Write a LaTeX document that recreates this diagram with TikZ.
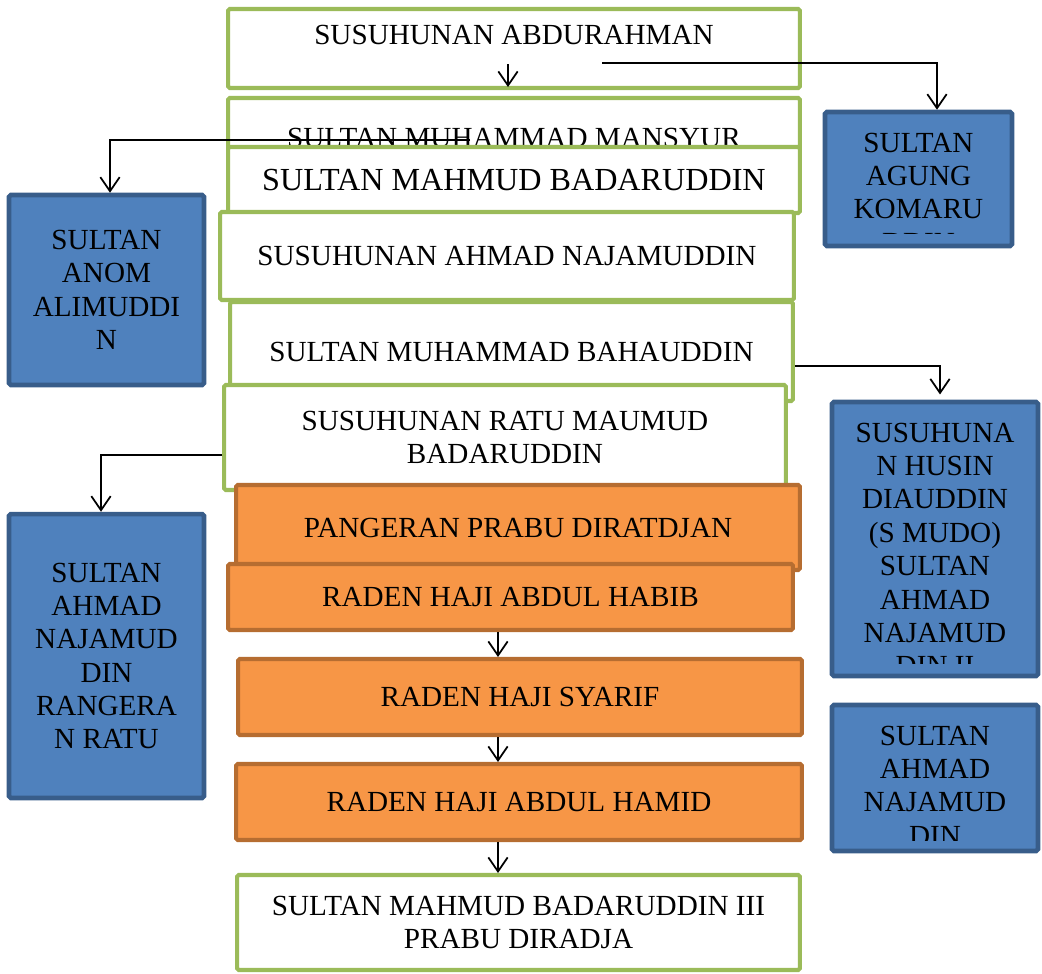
\documentclass[tikz,border=0pt]{standalone}
\usepackage{fontspec}
\setmainfont{Liberation Serif}
\usetikzlibrary{arrows.meta}
\definecolor{boxgreen}{HTML}{9BBB59}
\definecolor{bluefill}{HTML}{4F81BD}
\definecolor{blueline}{HTML}{385D8A}
\definecolor{orangefill}{HTML}{F79646}
\definecolor{orangeline}{HTML}{B66D31}
\newcommand{\boxfont}{\fontsize{16.6}{19}\selectfont}
\tikzset{
  greenbox/.style={draw=boxgreen, fill=white, line width=2.3pt, rounded corners=1pt, align=center, font=\boxfont},
  orangebox/.style={draw=orangeline, fill=orangefill, line width=2.3pt, rounded corners=1pt, align=center, font=\boxfont},
  bluebox/.style={draw=blueline, fill=bluefill, line width=2.6pt, rounded corners=1pt, align=center, font=\boxfont},
  boxtext/.style={align=center, font=\boxfont, inner sep=0pt},
  link/.style={-{Straight Barb[length=8pt,width=11pt]}, line width=1pt}
}

\begin{document}
\begin{tikzpicture}[x=0.02cm,y=-0.02cm]
\useasboundingbox (0,0) rectangle (1042,974);

% middle column
\node[greenbox, minimum width=11.44cm, minimum height=1.58cm] (abdurahman) at (514,48.5) {};
\node[boxtext] (abdurahmantxt) at (514,35) {SUSUHUNAN ABDURAHMAN};
\node[greenbox, minimum width=11.44cm, minimum height=1.6cm] (mansyur) at (514,138) {SULTAN MUHAMMAD MANSYUR};
\node[greenbox, minimum width=11.44cm, minimum height=1.32cm, font=\fontsize{18.3}{21}\selectfont] (badaruddin) at (514,180) {SULTAN MAHMUD BADARUDDIN};
\node[greenbox, minimum width=11.48cm, minimum height=1.76cm] (ahmadnaja) at (507,256) {SUSUHUNAN AHMAD NAJAMUDDIN};
\node[greenbox, minimum width=11.26cm, minimum height=1.98cm] (bahauddin) at (511.5,351.5) {SULTAN MUHAMMAD BAHAUDDIN};
\node[greenbox, minimum width=11.24cm, minimum height=2.1cm] (ratu) at (505,437.5) {SUSUHUNAN RATU MAUMUD\\BADARUDDIN};
\node[orangebox, minimum width=11.28cm, minimum height=1.7cm] (diratdjan) at (518,527.5) {PANGERAN PRABU DIRATDJAN};
\node[orangebox, minimum width=11.3cm, minimum height=1.32cm] (habib) at (510.5,597) {RADEN HAJI ABDUL HABIB};
\node[orangebox, minimum width=11.28cm, minimum height=1.52cm] (syarif) at (520,697) {RADEN HAJI SYARIF};
\node[orangebox, minimum width=11.32cm, minimum height=1.52cm] (hamid) at (519,802) {RADEN HAJI ABDUL HAMID};
\node[greenbox, minimum width=11.26cm, minimum height=1.9cm] (diradja) at (518.5,922.5) {SULTAN MAHMUD BADARUDDIN III\\PRABU DIRADJA};

% side boxes
\node[bluebox, minimum width=3.74cm, minimum height=2.68cm] (agung) at (918.5,179) {};
\begin{scope}
\clip (826,113) rectangle (1011,233);
\node[boxtext, anchor=north] (agungtxt) at (918.5,132.5) {SULTAN\\AGUNG\\KOMARU\\DDIN};
\end{scope}
\node[bluebox, minimum width=3.9cm, minimum height=3.8cm] (anom) at (106.5,290) {SULTAN\\ANOM\\ALIMUDDI\\N};
\node[bluebox, minimum width=4.12cm, minimum height=5.48cm] (husin) at (935,539) {};
\begin{scope}
\clip (833,403) rectangle (1037,663);
\node[boxtext, anchor=north] (husintxt) at (935,422.5) {SUSUHUNA\\N HUSIN\\DIAUDDIN\\(S MUDO)\\SULTAN\\AHMAD\\NAJAMUD\\DIN II};
\end{scope}
\node[bluebox, minimum width=3.9cm, minimum height=5.68cm] (rangeran) at (106.5,656) {SULTAN\\AHMAD\\NAJAMUD\\DIN\\RANGERA\\N RATU};
\node[bluebox, minimum width=4.12cm, minimum height=2.92cm] (najamud) at (935,778) {};
\begin{scope}
\clip (833,706) rectangle (1037,840);
\node[boxtext, anchor=north] (najamudtxt) at (935,725.5) {SULTAN\\AHMAD\\NAJAMUD\\DIN};
\end{scope}

% connectors
\coordinate (a1) at (508,64);
\coordinate (a2) at (508,87);
\draw[link] (a1) -- (a2);
\coordinate (r1) at (602,63);
\coordinate (r2) at (937,63);
\draw[link] (r1) -- (r2) -- (r2 |- agung.north);
\coordinate (l1) at (470,140);
\coordinate (l2) at (110,140);
\draw[link] (l1) -- (l2) -- (l2 |- anom.north);
\coordinate (b1) at (795,366);
\coordinate (b2) at (940,366);
\draw[link, shorten >=3pt] (b1) -- (b2) -- (b2 |- husin.north);
\coordinate (c1) at (222,455);
\coordinate (c2) at (101,455);
\draw[link] (c1) -- (c2) -- (c2 |- rangeran.north);
\coordinate (mid) at (498,0);
\draw[link] (habib.south -| mid) -- (syarif.north -| mid);
\draw[link] (syarif.south -| mid) -- (hamid.north -| mid);
\draw[link] (hamid.south -| mid) -- (diradja.north -| mid);
\end{tikzpicture}
\end{document}
